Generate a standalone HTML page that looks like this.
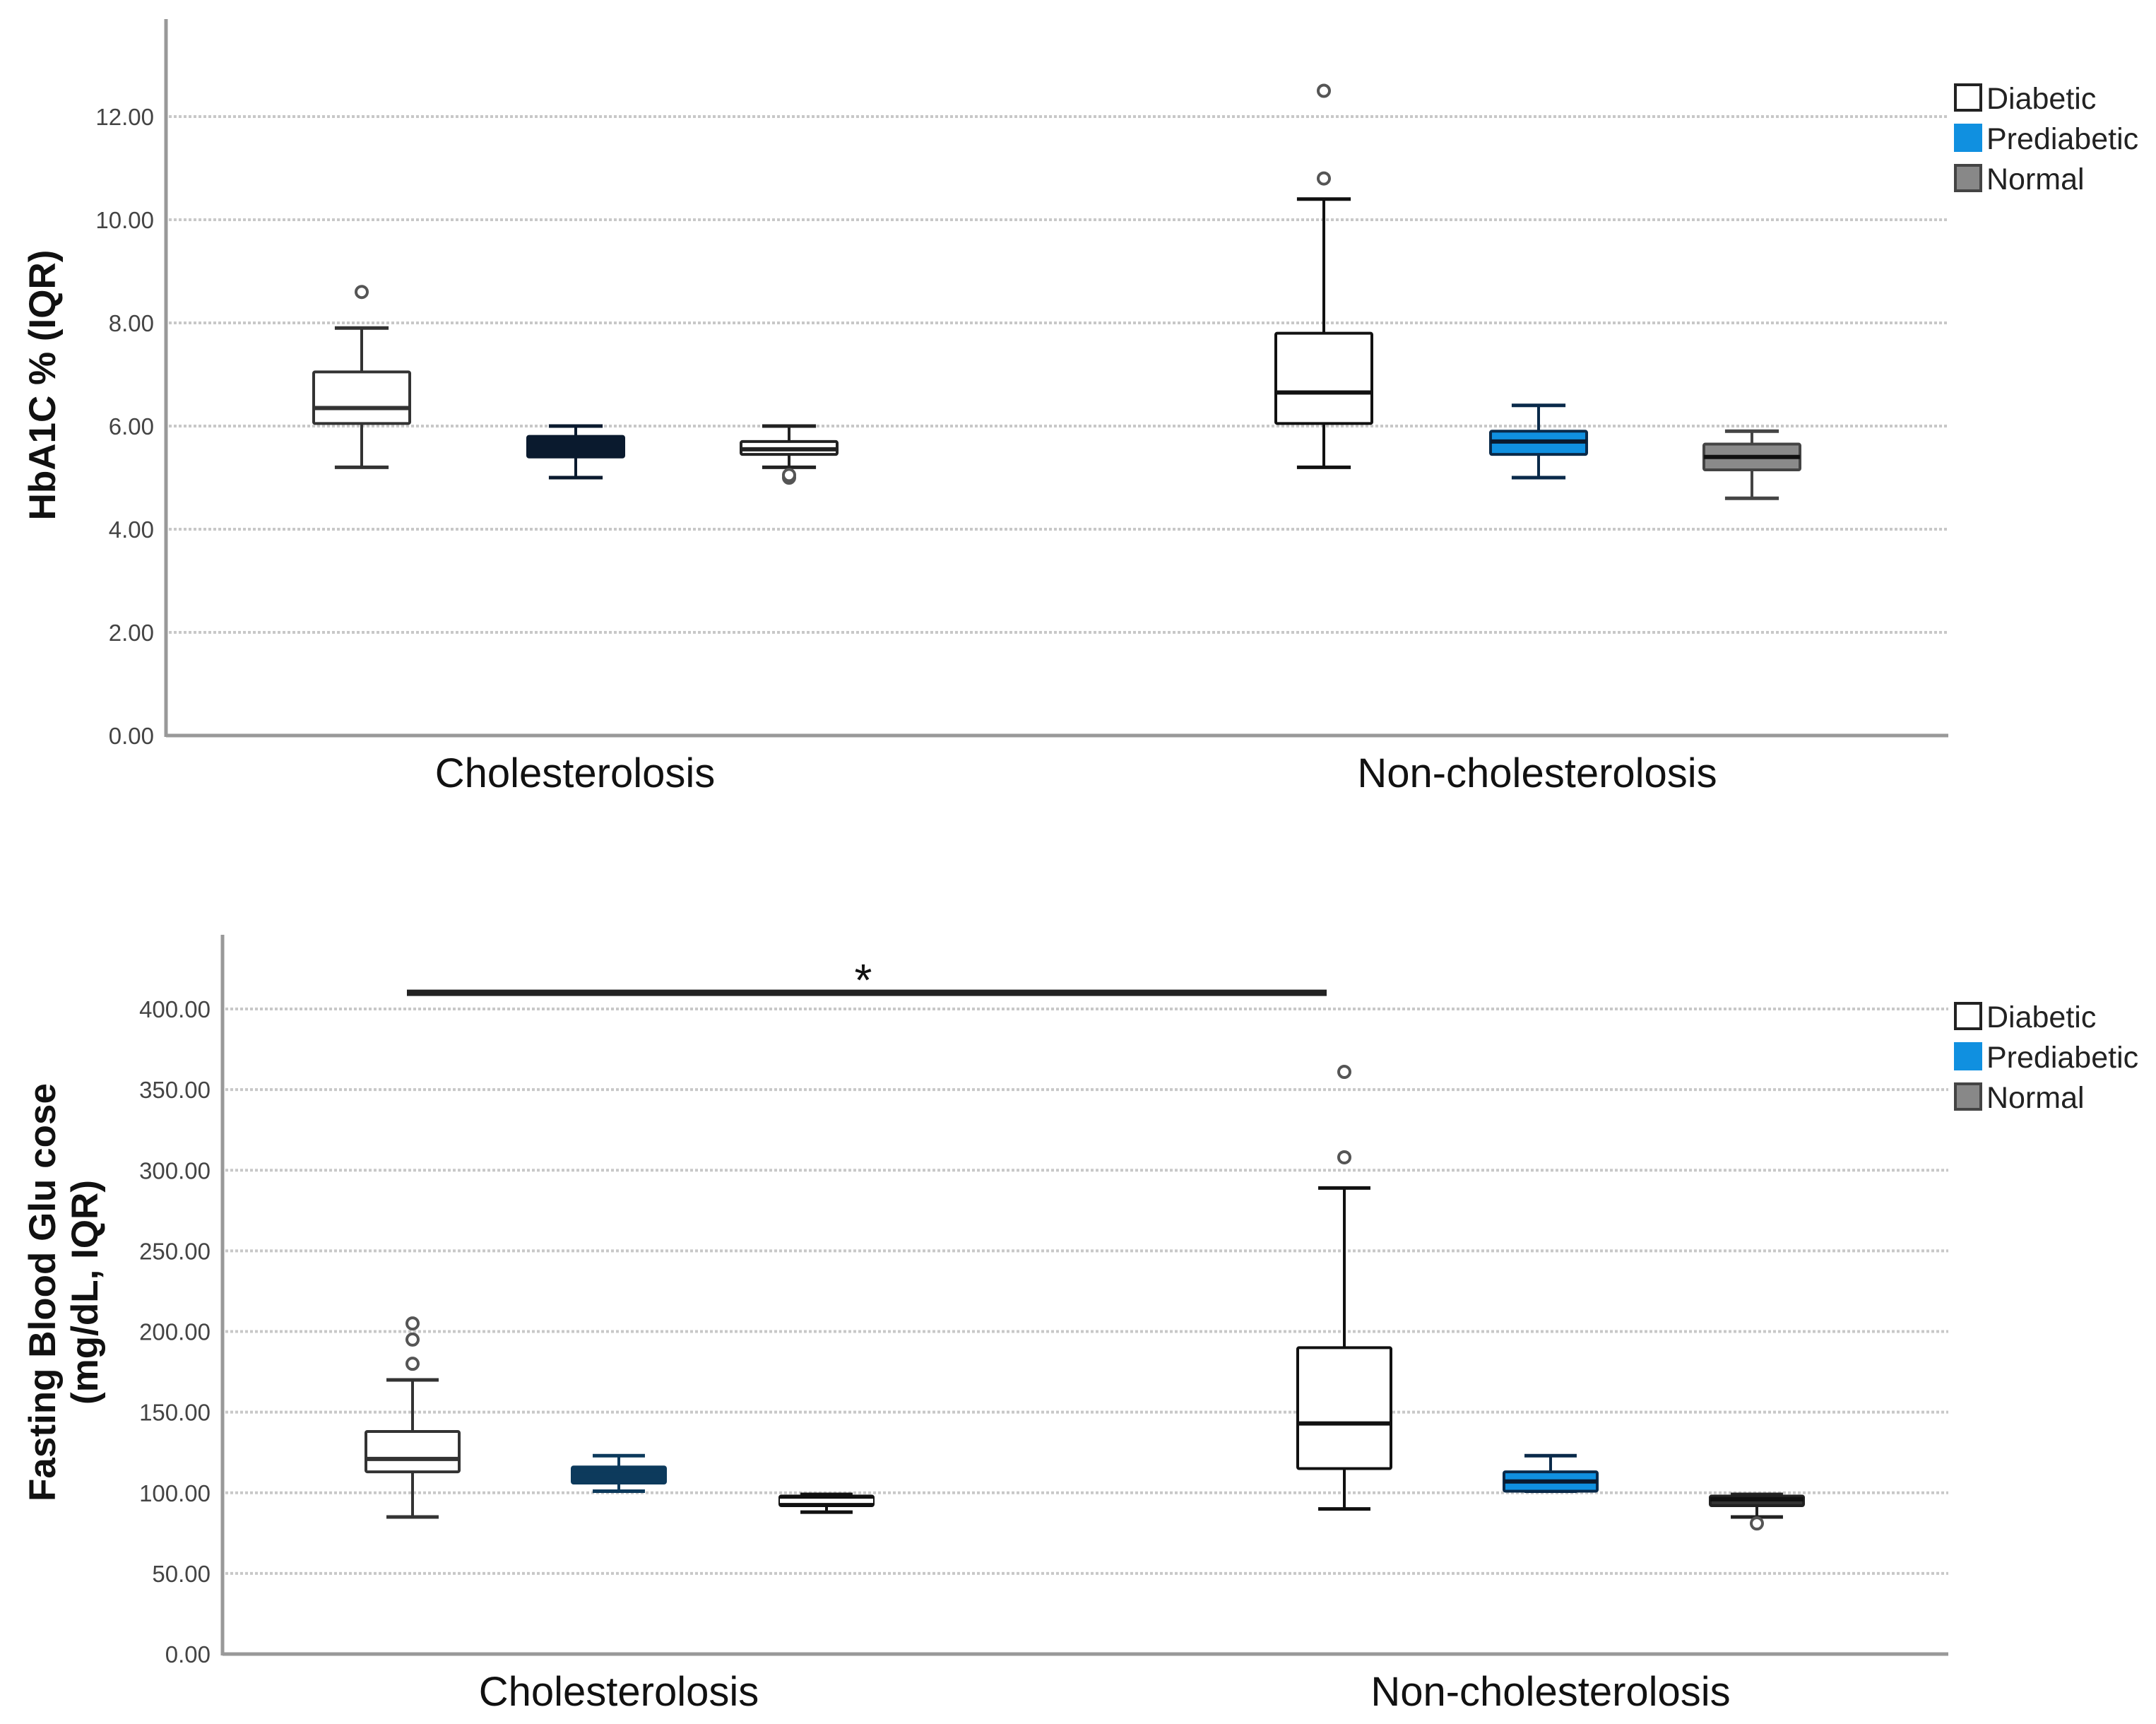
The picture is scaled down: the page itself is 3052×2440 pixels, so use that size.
<!DOCTYPE html>
<html><head><meta charset="utf-8">
<style>
html,body{margin:0;padding:0;background:#fff;}
svg{display:block;}
text{font-family:"Liberation Sans Narrow","Liberation Sans",sans-serif;}
.tick{fill:#444;font-size:33px;}
.cat{fill:#111;font-size:58px;font-family:"Liberation Sans",sans-serif;}
.ytitle{fill:#111;font-size:53px;font-weight:bold;font-family:"Liberation Sans",sans-serif;}
.leg{fill:#222;font-size:43px;}
</style></head>
<body>
<svg id="chart" width="3052" height="2440" viewBox="0 0 3052 2440" xmlns="http://www.w3.org/2000/svg"></svg>
<script>
// ----- data -----
const categories = ["Cholesterolosis", "Non-cholesterolosis"];
const groups = ["Diabetic", "Prediabetic", "Normal"];
// HbA1C panel: [whiskerLow, Q1, median, Q3, whiskerHigh]
const hbaStats = [
  [5.2, 6.05, 6.35, 7.05, 7.9],
  [5.0, 5.4, 5.6, 5.8, 6.0],
  [5.2, 5.45, 5.55, 5.7, 6.0],
  [5.2, 6.05, 6.65, 7.8, 10.4],
  [5.0, 5.45, 5.7, 5.9, 6.4],
  [4.6, 5.15, 5.4, 5.65, 5.9]
];
const hbaOutliers = [[8.6], [], [5.0, 5.05], [10.8, 12.5], [], []];
const hbaTicks = [0, 2, 4, 6, 8, 10, 12];
// Fasting blood glucose panel
const fbgStats = [
  [85, 113, 121, 138, 170],
  [101, 106, 111, 116, 123],
  [88, 92, 95, 98, 99],
  [90, 115, 143, 190, 289],
  [101, 101, 107, 113, 123],
  [85, 92, 96, 98, 99]
];
const fbgOutliers = [[180, 195, 205], [], [], [308, 361], [], [81]];
const fbgTicks = [0, 50, 100, 150, 200, 250, 300, 350, 400];
const sigBar = [0, 3, 410]; // from box index 0 to box index 3 at value 410

const NS = "http://www.w3.org/2000/svg";
const svg = document.getElementById("chart");
function mk(tag, attrs, parent) {
  const e = document.createElementNS(NS, tag);
  for (const k in attrs) e.setAttribute(k, attrs[k]);
  (parent || svg).appendChild(e);
  return e;
}

function panel(cfg) {
  const g = mk("g", {});
  
  
  const y = v => cfg.y0 - (v - cfg.vmin) / (cfg.vmax - cfg.vmin) * (cfg.y0 - cfg.yTop);
  cfg.ticks.forEach(t => {
    if (t !== 0) {
      const gl = mk("line", {x1: cfg.axX + 4, x2: cfg.axEnd, y1: y(t), y2: y(t), stroke: "#c8c8c8", "stroke-width": 4, "stroke-dasharray": "4 3"}, g);
      
      
    }
    const tl = mk("text", {x: cfg.tickX, y: y(t) + 12, "text-anchor": "end", class: "tick"}, g);
    tl.textContent = t.toFixed(2);
    
    
  });
  const ya = mk("line", {x1: cfg.axX, x2: cfg.axX, y1: cfg.axTop, y2: cfg.y0 + 2, stroke: "#999", "stroke-width": 5}, g);
  
  
  const xa = mk("line", {x1: cfg.axX, x2: cfg.axEnd, y1: cfg.y0, y2: cfg.y0, stroke: "#999", "stroke-width": 5}, g);
  
  
  categories.forEach((c, i) => {
    const t = mk("text", {x: cfg.catX[i], y: cfg.catY, "text-anchor": "middle", class: "cat"}, g);
    t.textContent = c;
    
    
  });
  cfg.stats.forEach((s, i) => {
    const cx = cfg.boxX[i], w = cfg.boxW, st = cfg.styles[i];
    const bg = mk("g", {}, g);
    
    
    mk("line", {x1: cx, x2: cx, y1: y(s[0]), y2: y(s[4]), stroke: st.line, "stroke-width": 4}, bg);
    mk("line", {x1: cx - w * 0.28, x2: cx + w * 0.28, y1: y(s[0]), y2: y(s[0]), stroke: st.line, "stroke-width": 5}, bg);
    mk("line", {x1: cx - w * 0.28, x2: cx + w * 0.28, y1: y(s[4]), y2: y(s[4]), stroke: st.line, "stroke-width": 5}, bg);
    mk("rect", {x: cx - w / 2, y: y(s[3]), width: w, height: Math.max(y(s[1]) - y(s[3]), 2), fill: st.fill, stroke: st.line, "stroke-width": 4, rx: 2}, bg);
    mk("line", {x1: cx - w / 2, x2: cx + w / 2, y1: y(s[2]), y2: y(s[2]), stroke: st.med, "stroke-width": 6}, bg);
    cfg.outliers[i].forEach(o => {
      const c = mk("circle", {cx: cx, cy: y(o), r: 8, fill: "#fff", stroke: "#555", "stroke-width": 4}, bg);
      
      
    });
  });
  cfg.titles.forEach((tt, k) => {
    const t = mk("text", {x: 0, y: 0, "text-anchor": "middle", class: "ytitle", transform: "translate(" + tt.x + "," + cfg.titleY + ") rotate(-90)"}, g);
    t.textContent = tt.text;
    
    
  });
  const legFill = ["#fff", "#1090e0", "#888"];
  const legStroke = ["#222", "#1090e0", "#444"];
  groups.forEach((gname, k) => {
    const lg = mk("g", {}, g);
    
    
    const cy = cfg.legY[k];
    mk("rect", {x: 2768, y: cy - 19, width: 36, height: 36, fill: legFill[k], stroke: legStroke[k], "stroke-width": 4}, lg);
    const t = mk("text", {x: 2812, y: cy + 15, class: "leg"}, lg);
    t.textContent = gname;
  });
  return y;
}

const topStyles = [
  {fill: "#fff", line: "#333", med: "#333"},
  {fill: "#0a1a2e", line: "#0a1a2e", med: "#0a1a2e"},
  {fill: "#fff", line: "#222", med: "#222"},
  {fill: "#fff", line: "#111", med: "#111"},
  {fill: "#1090e0", line: "#0a2a4a", med: "#0a1a2e"},
  {fill: "#8a8a8a", line: "#444", med: "#111"}
];
panel({
  name: "hba1c-panel", stats: hbaStats, outliers: hbaOutliers, ticks: hbaTicks,
  vmin: 0, vmax: 12, y0: 1041, yTop: 165, axX: 235, axTop: 27, axEnd: 2758, tickX: 218,
  catX: [814, 2176], catY: 1114, boxX: [512, 815, 1117, 1874, 2178, 2480], boxW: 136,
  styles: topStyles, titles: [{x: 78, text: "HbA1C % (IQR)"}], titleY: 545,
  legY: [139, 196, 253]
});
const botStyles = [
  {fill: "#fff", line: "#333", med: "#333"},
  {fill: "#0d3a5c", line: "#0d3a5c", med: "#0d3a5c"},
  {fill: "#111", line: "#111", med: "#fff"},
  {fill: "#fff", line: "#111", med: "#111"},
  {fill: "#1090e0", line: "#0a2a4a", med: "#0a1a2e"},
  {fill: "#333", line: "#222", med: "#111"}
];
const yb = panel({
  name: "fbg-panel", stats: fbgStats, outliers: fbgOutliers, ticks: fbgTicks,
  vmin: 0, vmax: 400, y0: 2341, yTop: 1428, axX: 315, axTop: 1323, axEnd: 2758, tickX: 298,
  catX: [876, 2195], catY: 2414, boxX: [584, 876, 1170, 1903, 2195, 2487], boxW: 132,
  styles: botStyles,
  titles: [{x: 78, text: "Fasting Blood Glu cose"}, {x: 138, text: "(mg/dL, IQR)"}], titleY: 1829,
  legY: [1439, 1496, 1553]
});
const boxXb = [584, 876, 1170, 1903, 2195, 2487];
const sig = mk("line", {x1: boxXb[sigBar[0]] - 8, x2: boxXb[sigBar[1]] - 25, y1: yb(sigBar[2]), y2: yb(sigBar[2]), stroke: "#222", "stroke-width": 9});


const star = mk("text", {x: 1222, y: yb(sigBar[2]) + 4, "text-anchor": "middle", style: "font-size:64px;font-family:'Liberation Sans',sans-serif;fill:#111"});
star.textContent = "*";


</script>
</body></html>
